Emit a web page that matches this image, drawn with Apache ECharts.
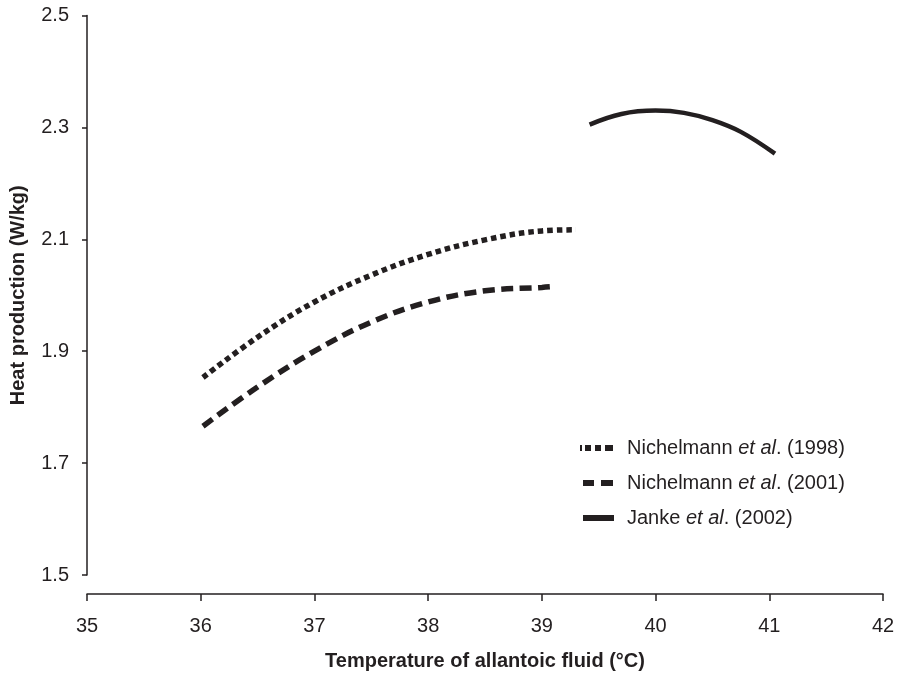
<!DOCTYPE html>
<html>
<head>
<meta charset="utf-8">
<script src="https://cdn.jsdelivr.net/npm/echarts@6/dist/echarts.min.js"></script>
<style>html,body{margin:0;padding:0;background:#fff}#c{width:900px;height:676px}</style>
</head>
<body>
<div id="c"></div>
<script>
const seriesNames = ['Nichelmann et al. (1998)', 'Nichelmann et al. (2001)', 'Janke et al. (2002)'];
const x1998 = [36.02, 36.5, 37, 37.5, 38, 38.5, 39, 39.3];
const y1998 = [1.853, 1.925, 1.988, 2.036, 2.073, 2.099, 2.115, 2.117];
const x2001 = [36.02, 36.5, 37, 37.5, 38, 38.5, 39, 39.07];
const y2001 = [1.766, 1.836, 1.900, 1.952, 1.988, 2.008, 2.014, 2.015];
const x2002 = [39.42, 39.7, 40, 40.25, 40.5, 40.75, 41.05];
const y2002 = [2.305, 2.324, 2.330, 2.326, 2.313, 2.292, 2.253];
const xTicks = [35, 36, 37, 38, 39, 40, 41, 42];
const yTicks = [1.5, 1.7, 1.9, 2.1, 2.3, 2.5];

const ink = '#231f20';
const font = '"Liberation Sans", Arial, sans-serif';
const zip = (xs, ys) => xs.map((x, i) => [x, ys[i]]);

// legend icon shapes (34 x 6 box); tiny corner marks keep the bounding box fixed
const corner = ' M0,0L0.01,0L0.01,0.01Z M33.99,5.99L34,5.99L34,6Z';
const iconDotted = 'path://M0,0L2,0L2,6L0,6Z M5,0L11,0L11,6L5,6Z M15,0L21,0L21,6L15,6Z M25,0L33,0L33,6L25,6Z' + corner;
const iconDashed = 'path://M3,0L14,0L14,6L3,6Z M21,0L33,0L33,6L21,6Z' + corner;
const iconSolid = 'path://M3,0L34,0L34,6L3,6Z' + corner;

const chart = echarts.init(document.getElementById('c'), null, {renderer: 'canvas'});
chart.setOption({
  animation: false,
  backgroundColor: '#fff',
  textStyle: {fontFamily: font, color: ink},
  grid: {left: 87, right: 17, top: 15.5, bottom: 100, containLabel: false},
  legend: {
    orient: 'vertical',
    left: 575, top: 433,
    itemWidth: 34, itemHeight: 6, itemGap: 15,
    symbolKeepAspect: false,
    itemStyle: {color: ink, borderWidth: 0},
    data: [
      {name: seriesNames[0], icon: iconDotted},
      {name: seriesNames[1], icon: iconDashed},
      {name: seriesNames[2], icon: iconSolid}
    ],
    formatter: function (name) {
      const m = name.match(/^(\S+) et al\. (.*)$/);
      return '{s| }{n|' + m[1] + ' }{i|et al}{n|. ' + m[2] + '}';
    },
    textStyle: {
      fontFamily: font, fontSize: 20, color: ink,
      rich: {
        s: {width: 8, fontSize: 20, lineHeight: 23},
        n: {fontFamily: font, fontSize: 20, color: ink, lineHeight: 23},
        i: {fontFamily: font, fontSize: 20, color: ink, fontStyle: 'italic', lineHeight: 23}
      }
    }
  },
  xAxis: {
    type: 'value', min: 35, max: 42, interval: 1, offset: 19,
    name: 'Temperature of allantoic fluid (°C)',
    nameLocation: 'middle', nameGap: 57,
    nameTextStyle: {fontFamily: font, fontSize: 20, fontWeight: 'bold', color: ink},
    axisLine: {show: true, lineStyle: {color: ink, width: 1.5}},
    axisTick: {show: true, length: 7, lineStyle: {color: ink, width: 1.5}},
    axisLabel: {fontFamily: font, fontSize: 20, color: ink, margin: 22,
      formatter: v => xTicks.includes(v) ? String(v) : ''},
    splitLine: {show: false}
  },
  yAxis: {
    type: 'value', min: 1.5, max: 2.5, interval: 0.2,
    name: 'Heat production (W/kg)',
    nameLocation: 'middle', nameGap: 59,
    nameTextStyle: {fontFamily: font, fontSize: 20, fontWeight: 'bold', color: ink},
    axisLine: {show: true, lineStyle: {color: ink, width: 1.5}},
    axisTick: {show: true, length: 5, lineStyle: {color: ink, width: 1.5}},
    axisLabel: {fontFamily: font, fontSize: 20, color: ink, margin: 18,
      formatter: v => yTicks.some(t => Math.abs(t - v) < 1e-6) ? v.toFixed(1) : ''},
    splitLine: {show: false}
  },
  series: [
    {
      name: seriesNames[0], type: 'line', smooth: 0.4, showSymbol: false, symbol: 'none',
      data: zip(x1998, y1998),
      lineStyle: {color: ink, width: 5.5, type: [5.5, 4], cap: 'butt'},
      itemStyle: {color: ink}
    },
    {
      name: seriesNames[1], type: 'line', smooth: 0.4, showSymbol: false, symbol: 'none',
      data: zip(x2001, y2001),
      lineStyle: {color: ink, width: 5.5, type: [12, 6.5], cap: 'butt'},
      itemStyle: {color: ink}
    },
    {
      name: seriesNames[2], type: 'line', smooth: 0.4, showSymbol: false, symbol: 'none',
      data: zip(x2002, y2002),
      lineStyle: {color: ink, width: 4.5, cap: 'butt'},
      itemStyle: {color: ink}
    }
  ]
});
</script>
</body>
</html>
